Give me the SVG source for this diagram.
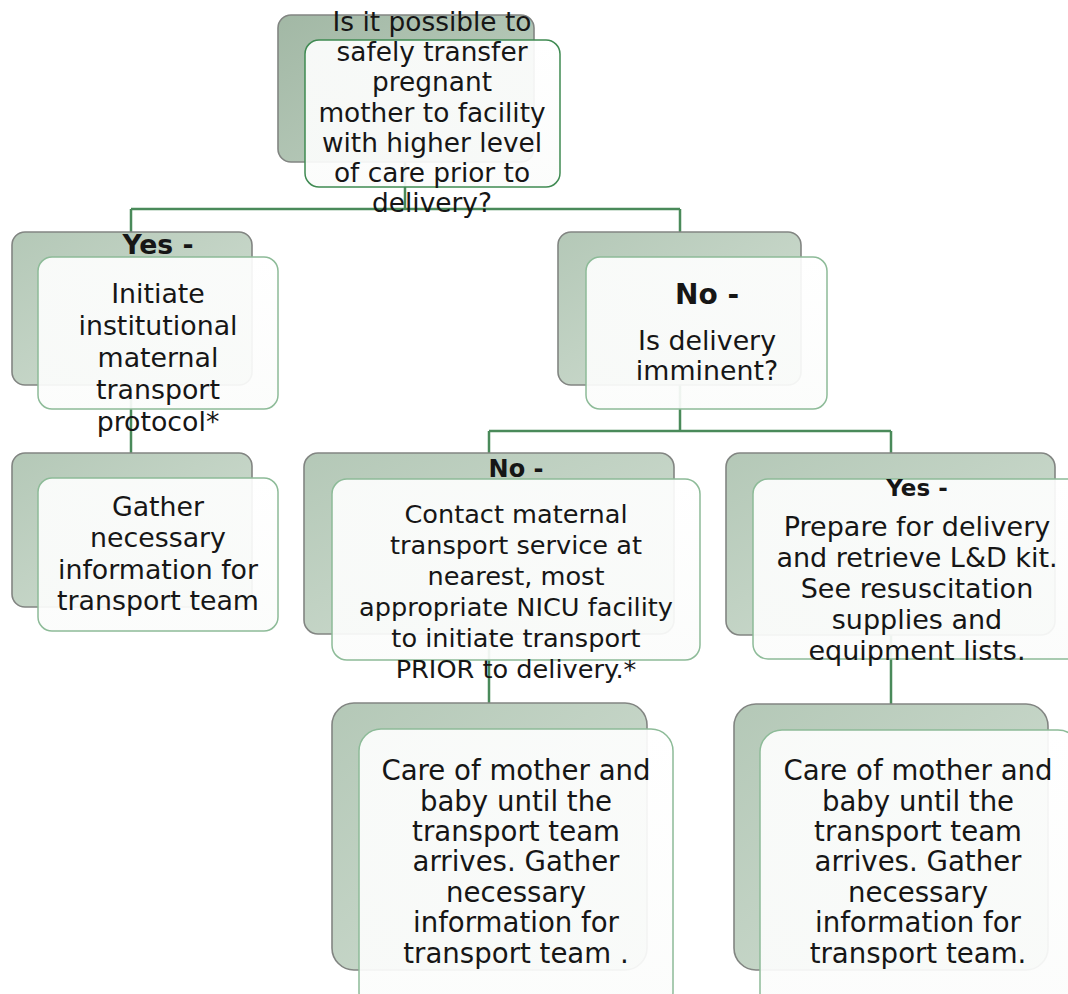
<svg xmlns="http://www.w3.org/2000/svg" width="1068" height="994" viewBox="0 0 1068 994">
<defs>
<linearGradient id="backTop" x1="0" y1="0" x2="1" y2="1">
<stop offset="0" stop-color="#a2b8a5"/>
<stop offset="1" stop-color="#bfd0c1"/>
</linearGradient>
<linearGradient id="back" x1="0" y1="0" x2="1" y2="1">
<stop offset="0" stop-color="#b4c8b7"/>
<stop offset="1" stop-color="#d2dfd3"/>
</linearGradient>
<linearGradient id="front" x1="0" y1="0" x2="0" y2="1">
<stop offset="0" stop-color="#ffffff" stop-opacity="0.91"/>
<stop offset="1" stop-color="#fbfcfb" stop-opacity="0.93"/>
</linearGradient>
</defs>
<style>
.back{stroke:#828582;stroke-width:1.6}
.front{fill:url(#front);stroke:#8dbb98;stroke-width:1.5}
.frontTop{fill:url(#front);stroke:#3f8a52;stroke-width:1.5}
.conn{fill:none;stroke:#4a8a5a;stroke-width:2.5}
text{font-family:"DejaVu Sans","Liberation Sans",sans-serif;fill:#161616;text-anchor:middle}
.b{font-weight:bold}
</style>
<rect width="1068" height="994" fill="#ffffff"/>
<g id="connectors">
<path class="conn" d="M405 162V209M131 209H680M131 209V232M680 209V232M131 385V453M680 385V431M489 431H891M489 431V705M891 431V705"/>
</g>
<g id="n-top">
<rect class="back" x="278" y="15" width="256" height="147" rx="13" fill="url(#backTop)"/>
<rect class="frontTop" x="305" y="40" width="255" height="147" rx="14"/>
<text font-size="26.4"><tspan x="432" y="31">Is it possible to</tspan><tspan x="432" y="61">safely transfer</tspan><tspan x="432" y="91">pregnant</tspan><tspan x="432" y="122">mother to facility</tspan><tspan x="432" y="152">with higher level</tspan><tspan x="432" y="182">of care prior to</tspan><tspan x="432" y="212">delivery?</tspan></text>
</g>
<g id="n-yes">
<rect class="back" x="12" y="232" width="240" height="153" rx="13" fill="url(#back)"/>
<rect class="front" x="38" y="257" width="240" height="152" rx="14"/>
<text class="b" font-size="26.7" x="158" y="254">Yes -</text>
<text font-size="26.8"><tspan x="158" y="303">Initiate</tspan><tspan x="158" y="335">institutional</tspan><tspan x="158" y="367">maternal</tspan><tspan x="158" y="399">transport</tspan><tspan x="158" y="431">protocol*</tspan></text>
</g>
<g id="n-gather">
<rect class="back" x="12" y="453" width="240" height="154" rx="13" fill="url(#back)"/>
<rect class="front" x="38" y="478" width="240" height="153" rx="14"/>
<text font-size="26.8"><tspan x="158" y="516">Gather</tspan><tspan x="158" y="547">necessary</tspan><tspan x="158" y="579">information for</tspan><tspan x="158" y="610">transport team</tspan></text>
</g>
<g id="n-no">
<rect class="back" x="558" y="232" width="243" height="153" rx="13" fill="url(#back)"/>
<rect class="front" x="586" y="257" width="241" height="152" rx="14"/>
<text class="b" font-size="28" x="707" y="304">No -</text>
<text font-size="26.8"><tspan x="707" y="350">Is delivery</tspan><tspan x="707" y="380">imminent?</tspan></text>
</g>
<g id="n-no2">
<rect class="back" x="304" y="453" width="370" height="181" rx="14" fill="url(#back)"/>
<rect class="front" x="332" y="479" width="368" height="181" rx="15"/>
<text class="b" font-size="24" x="516" y="477">No -</text>
<text font-size="25.6"><tspan x="516" y="523">Contact maternal</tspan><tspan x="516" y="554">transport service at</tspan><tspan x="516" y="585">nearest, most</tspan><tspan x="516" y="616">appropriate NICU facility</tspan><tspan x="516" y="647">to initiate transport</tspan><tspan x="516" y="678">PRIOR to delivery.*</tspan></text>
</g>
<g id="n-yes2">
<rect class="back" x="726" y="453" width="329" height="182" rx="14" fill="url(#back)"/>
<rect class="front" x="753" y="479" width="330" height="180" rx="15"/>
<text class="b" font-size="23" x="917" y="496">Yes -</text>
<text font-size="27"><tspan x="917" y="536">Prepare for delivery</tspan><tspan x="917" y="567">and retrieve L&amp;D kit.</tspan><tspan x="917" y="598">See resuscitation</tspan><tspan x="917" y="629">supplies and</tspan><tspan x="917" y="660">equipment lists.</tspan></text>
</g>
<g id="n-care1">
<rect class="back" x="332" y="703" width="315" height="267" rx="22" fill="url(#back)"/>
<rect class="front" x="359" y="729" width="314" height="285" rx="22"/>
<text font-size="27.6"><tspan x="516" y="780">Care of mother and</tspan><tspan x="516" y="811">baby until the</tspan><tspan x="516" y="841">transport team</tspan><tspan x="516" y="871">arrives. Gather</tspan><tspan x="516" y="902">necessary</tspan><tspan x="516" y="932">information for</tspan><tspan x="516" y="963">transport team .</tspan></text>
</g>
<g id="n-care2">
<rect class="back" x="734" y="704" width="314" height="266" rx="22" fill="url(#back)"/>
<rect class="front" x="760" y="730" width="320" height="285" rx="22"/>
<text font-size="27.6"><tspan x="918" y="780">Care of mother and</tspan><tspan x="918" y="811">baby until the</tspan><tspan x="918" y="841">transport team</tspan><tspan x="918" y="871">arrives. Gather</tspan><tspan x="918" y="902">necessary</tspan><tspan x="918" y="932">information for</tspan><tspan x="918" y="963">transport team.</tspan></text>
</g>
</svg>
